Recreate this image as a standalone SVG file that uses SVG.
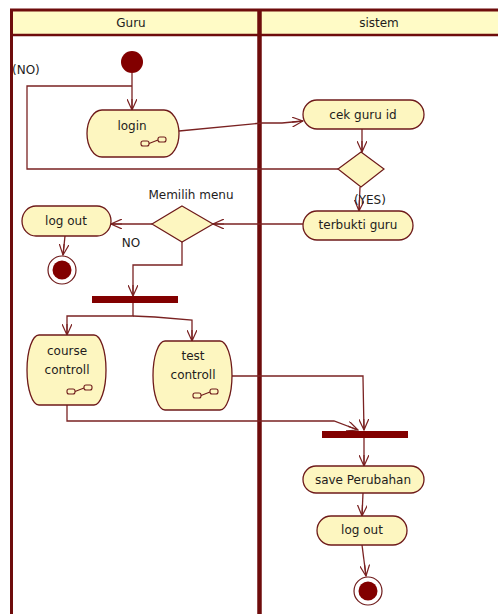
<svg xmlns="http://www.w3.org/2000/svg" width="498" height="614" viewBox="0 0 498 614">
  <defs>
    <style>
      .lane { fill: #ffffff; }
      .head { fill: #fffbc6; }
      .frame { stroke: #6e0c0c; fill: none; }
      .act { fill: #fdf6c0; stroke: #6e1a1a; stroke-width: 1.3; }
      .dec { fill: #fdf6c0; stroke: #6e1a1a; stroke-width: 1.2; }
      .bar { fill: #820000; }
      .icon { fill: none; stroke: #6e1a1a; stroke-width: 1.1; }
      .edge { fill: none; stroke: #7a2222; stroke-width: 1.3; }
      text { font-family: "DejaVu Sans", "Liberation Sans", sans-serif; font-size: 12px; fill: #231c1c; }
      .c { text-anchor: middle; }
    </style>
    <marker id="arr" viewBox="0 0 12 10" refX="11" refY="5" markerWidth="12" markerHeight="10" markerUnits="userSpaceOnUse" orient="auto">
      <path d="M0,0 L11,5 L0,10 M0,5 L11,5" fill="none" stroke="#7a2222" stroke-width="1.2"/>
    </marker>
    <g id="rake">
      <rect x="0" y="4" width="8" height="5" rx="2" class="icon"/>
      <line x1="8" y1="6.5" x2="17" y2="3" class="icon"/>
      <rect x="17" y="0" width="8" height="5" rx="2" class="icon"/>
    </g>
  </defs>

  <rect width="498" height="614" fill="#ffffff"/>

  <!-- swimlane frame -->
  <g id="lanes">
    <rect x="11" y="10" width="490" height="25" class="head"/>
    <line x1="10" y1="10" x2="498" y2="10" class="frame" stroke-width="3"/>
    <line x1="11" y1="35" x2="498" y2="35" class="frame" stroke-width="2.5"/>
    <line x1="11.5" y1="9" x2="11.5" y2="614" class="frame" stroke-width="3"/>
    <line x1="259.5" y1="9" x2="259.5" y2="614" class="frame" stroke-width="4.5"/>
    <text x="131" y="27" class="c">Guru</text>
    <text x="379" y="27" class="c">sistem</text>
  </g>

  <!-- connectors -->
  <g id="connectors">
    <line x1="132" y1="73" x2="132" y2="110" class="edge" marker-end="url(#arr)"/>
    <polyline points="338,169 27,169 27,86 132,86" class="edge"/>
    <polyline points="179,131 262,123 282,123 303,121" class="edge" marker-end="url(#arr)"/>
    <line x1="362" y1="129" x2="362" y2="152" class="edge" marker-end="url(#arr)"/>
    <line x1="360" y1="187" x2="359" y2="211" class="edge" marker-end="url(#arr)"/>
    <line x1="303" y1="224" x2="213" y2="224" class="edge" marker-end="url(#arr)"/>
    <line x1="152" y1="224" x2="111" y2="224" class="edge" marker-end="url(#arr)"/>
    <line x1="65" y1="236" x2="63" y2="255" class="edge" marker-end="url(#arr)"/>
    <polyline points="182,242 182,265 133,265 133,296" class="edge" marker-end="url(#arr)"/>
    <polyline points="133,303 133,316 67,316 67,335" class="edge" marker-end="url(#arr)"/>
    <polyline points="133,316 155,317 192,320 192,341" class="edge" marker-end="url(#arr)"/>
    <polyline points="232,376 363,376 363,378 364,430" class="edge" marker-end="url(#arr)"/>
    <polyline points="67,405 67,421 334,421 358,430" class="edge" marker-end="url(#arr)"/>
    <line x1="364" y1="438" x2="364" y2="466" class="edge" marker-end="url(#arr)"/>
    <line x1="363" y1="493" x2="362" y2="516" class="edge" marker-end="url(#arr)"/>
    <line x1="362" y1="545" x2="366" y2="576" class="edge" marker-end="url(#arr)"/>
    <text x="12" y="74">(NO)</text>
    <text x="354" y="204">(YES)</text>
    <text x="131" y="247" class="c">NO</text>
  </g>

  <!-- nodes -->
  <g id="start">
    <circle cx="132" cy="62" r="11" fill="#820000"/>
  </g>

  <g id="login">
    <rect x="87" y="110" width="92" height="47" rx="15" ry="23.5" class="act"/>
    <text x="132" y="130" class="c">login</text>
    <use href="#rake" x="141" y="137"/>
  </g>

  <g id="cek-guru-id">
    <rect x="303" y="100" width="121" height="29" rx="14" ry="14.5" class="act"/>
    <text x="363" y="119" class="c">cek guru id</text>
  </g>

  <g id="cek-decision">
    <polygon points="361,152 384,169 361,187 338,169" class="dec"/>
  </g>

  <g id="terbukti-guru">
    <rect x="303" y="211" width="110" height="29" rx="14" ry="14.5" class="act"/>
    <text x="358" y="229" class="c">terbukti guru</text>
  </g>

  <g id="memilih-menu">
    <polygon points="182,206 213,224 182,242 152,224" class="dec"/>
    <text x="191" y="199" class="c">Memilih menu</text>
  </g>

  <g id="log-out-guru">
    <rect x="22" y="206" width="89" height="30" rx="14" ry="15" class="act"/>
    <text x="66" y="225" class="c">log out</text>
  </g>

  <g id="end-guru">
    <circle cx="62" cy="270" r="14" fill="#ffffff" stroke="#6e1a1a" stroke-width="1.2"/>
    <circle cx="62" cy="270" r="9.5" fill="#820000"/>
  </g>

  <g id="fork">
    <rect x="92" y="296" width="86" height="7" class="bar"/>
  </g>

  <g id="course-controll">
    <rect x="27" y="335" width="79" height="70" rx="12" ry="35" class="act"/>
    <text x="67" y="355" class="c">course</text>
    <text x="67" y="374" class="c">controll</text>
    <use href="#rake" x="67" y="385"/>
  </g>

  <g id="test-controll">
    <rect x="153" y="341" width="79" height="69" rx="12" ry="34.5" class="act"/>
    <text x="193" y="360" class="c">test</text>
    <text x="193" y="379" class="c">controll</text>
    <use href="#rake" x="193" y="389"/>
  </g>

  <g id="join">
    <rect x="322" y="431" width="86" height="7" class="bar"/>
  </g>

  <g id="save-perubahan">
    <rect x="303" y="466" width="121" height="27" rx="13" ry="13.5" class="act"/>
    <text x="363" y="484" class="c">save Perubahan</text>
  </g>

  <g id="log-out-sistem">
    <rect x="317" y="516" width="90" height="29" rx="14" ry="14.5" class="act"/>
    <text x="362" y="534" class="c">log out</text>
  </g>

  <g id="end-sistem">
    <circle cx="368" cy="591" r="14" fill="#ffffff" stroke="#6e1a1a" stroke-width="1.2"/>
    <circle cx="368" cy="591" r="9.5" fill="#820000"/>
  </g>
</svg>
